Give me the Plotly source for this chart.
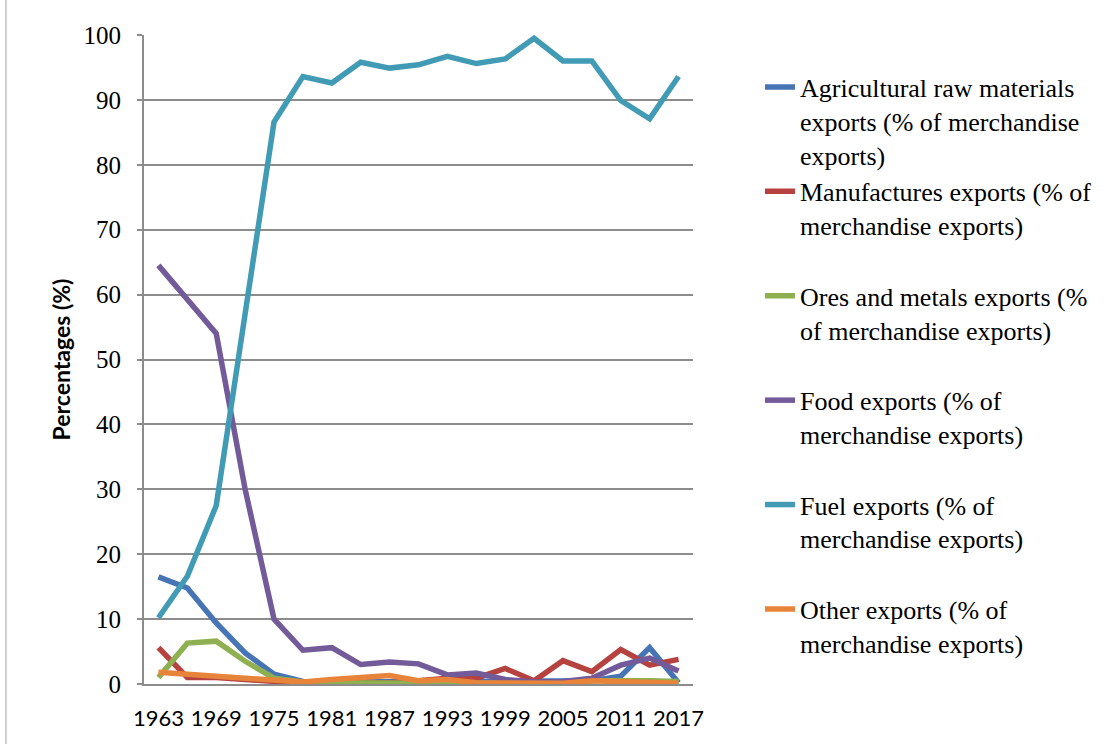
import plotly.graph_objects as go

years = [str(y) for y in range(1963, 2018, 3)]
tick_years = [str(y) for y in range(1963, 2018, 6)]

agricultural = [16.5, 14.8, 9.4, 4.8, 1.5, 0.4, 0.3, 0.3, 0.3, 0.3, 0.3, 0.3, 0.4, 0.3, 0.3, 0.5, 1.2, 5.6, 0.2]
manufactures = [5.6, 1.0, 1.0, 0.7, 0.3, 0.1, 0.2, 0.1, 0.2, 0.5, 0.9, 0.9, 2.4, 0.5, 3.6, 1.9, 5.3, 2.9, 3.8]
ores_metals = [1.0, 6.3, 6.6, 3.5, 0.9, 0.3, 0.2, 0.1, 0.1, 0.1, 0.1, 0.1, 0.1, 0.1, 0.1, 0.5, 0.6, 0.5, 0.4]
food = [64.5, 59.3, 54.0, 30.0, 10.0, 5.2, 5.6, 3.0, 3.4, 3.1, 1.4, 1.7, 0.7, 0.3, 0.4, 0.9, 2.9, 4.0, 2.0]
fuel = [10.2, 16.6, 27.5, 57.0, 86.6, 93.6, 92.6, 95.8, 94.9, 95.4, 96.7, 95.6, 96.3, 99.5, 96.0, 96.0, 89.9, 87.1, 93.6]
other = [1.8, 1.5, 1.3, 1.0, 0.5, 0.3, 0.7, 0.9, 1.3, 0.5, 0.7, 0.2, 0.1, 0.1, 0.1, 0.5, 0.3, 0.1, 0.1]

series_names = [
    "Agricultural raw materials<br>exports (% of merchandise<br>exports)",
    "Manufactures exports (% of<br>merchandise exports)<br> ",
    "Ores and metals exports (%<br>of merchandise exports)<br> ",
    "Food exports (% of<br>merchandise exports)<br> ",
    "Fuel exports (% of<br>merchandise exports)<br> ",
    "Other exports (% of<br>merchandise exports)<br> ",
]
series_values = [agricultural, manufactures, ores_metals, food, fuel, other]
series_colors = ["#4674B4", "#B5423F", "#8FB050", "#735A98", "#419BB5", "#E8843A"]

grid_color = "#8C8C8C"

fig = go.Figure()
for i, (name, vals, color) in enumerate(zip(series_names, series_values, series_colors)):
    fig.add_trace(go.Scatter(
        x=years, y=vals, name=name, mode="lines",
        line=dict(color=color, width=5.5),
        legendgroup=f"g{i}",
    ))

# thin frame line along the left edge of the chart area
fig.add_shape(type="line", xref="paper", yref="paper",
              x0=-0.2514, x1=-0.2514, y0=-0.0925, y1=1.054,
              line=dict(color="#A0A0A0", width=1))

fig.update_layout(
    width=1120, height=744,
    margin=dict(l=144, r=427, t=35, b=60),
    paper_bgcolor="white", plot_bgcolor="white",
    showlegend=True,
    legend=dict(
        x=(760 - 144) / 549, xanchor="left",
        y=0.956, yanchor="top",
        font=dict(family="Liberation Serif", size=26, color="black"),
        valign="top", tracegroupgap=0, itemwidth=30,
        bgcolor="rgba(0,0,0,0)",
    ),
    xaxis=dict(
        type="category", categoryorder="array", categoryarray=years,
        range=[-0.5, len(years) - 0.5],
        tickmode="array", tickvals=tick_years, ticktext=tick_years,
        showgrid=False, showline=True, linecolor=grid_color, linewidth=2,
        ticks="", ticklabelstandoff=14,
        tickfont=dict(family="Lato", size=22, color="black"),
    ),
    yaxis=dict(
        range=[0, 100], tickmode="linear", tick0=0, dtick=10,
        showgrid=True, gridcolor=grid_color, gridwidth=2,
        showline=True, linecolor=grid_color, linewidth=2,
        zeroline=False,
        ticks="outside", ticklen=5, tickcolor=grid_color, tickwidth=2,
        ticklabelstandoff=11,
        tickfont=dict(family="Liberation Serif", size=25, color="black"),
        title=dict(text="<b>Percentages (%)</b>", standoff=6,
                   font=dict(family="Lato", size=23, color="black")),
    ),
)

fig.write_html("out.html")
